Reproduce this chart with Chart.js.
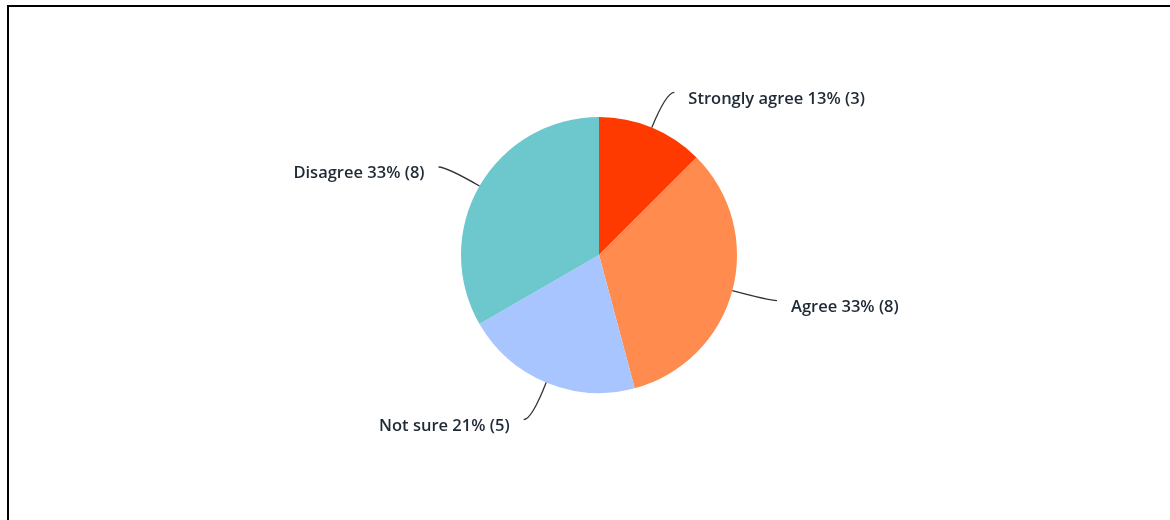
<!DOCTYPE html>
<html>
<head>
<meta charset="utf-8">
<script src="https://cdn.jsdelivr.net/npm/chart.js@4.4.1/dist/chart.umd.min.js"></script>
<style>
    html, body { margin: 0; padding: 0; background: #fff; }
    #wrap { position: relative; width: 1170px; height: 520px; overflow: hidden; }
    #topLine { position: absolute; left: 7px; top: 5px; width: 1163px; height: 2px; background: #000; }
    #leftLine { position: absolute; left: 7px; top: 5px; width: 2px; height: 515px; background: #000; }
    #box { position: absolute; left: 0; top: 0; width: 1170px; height: 520px; }
</style>
</head>
<body>
<div id="wrap">
    <div id="box"><canvas id="pieChart"></canvas></div>
    <div id="topLine"></div>
    <div id="leftLine"></div>
</div>
<script>
// Survey answers, counts and shares as shown in the chart
const answers = ['Strongly agree', 'Agree', 'Not sure', 'Disagree'];
const counts = [3, 8, 5, 8];
const percents = [13, 33, 21, 33];
const sliceColors = ['#ff3a00', '#ff8b4f', '#a9c5ff', '#6cc8cc'];

// Draws the curved leader lines and the labels next to each slice
const leaderLabels = {
    id: 'leaderLabels',
    afterDatasetsDraw(chart) {
        const ctx = chart.ctx;
        const meta = chart.getDatasetMeta(0);
        ctx.save();
        ctx.font = '600 16.5px "Open Sans"';
        ctx.textBaseline = 'middle';
        meta.data.forEach((arc, i) => {
            const p = arc.getProps(['x', 'y', 'startAngle', 'endAngle', 'outerRadius'], true);
            const mid = (p.startAngle + p.endAngle) / 2;
            const cos = Math.cos(mid), sin = Math.sin(mid);
            const right = cos >= 0;
            const x0 = p.x + cos * p.outerRadius;
            const y0 = p.y + sin * p.outerRadius;
            const x1 = p.x + cos * (p.outerRadius + 38);
            const y1 = p.y + sin * (p.outerRadius + 38) + (sin > 0.5 ? 2 : 0);
            const x2 = x1 + (right ? 8 : -8);

            ctx.strokeStyle = '#333';
            ctx.lineWidth = 1.3;
            ctx.beginPath();
            ctx.moveTo(x0, y0);
            ctx.quadraticCurveTo(x1, y1, x2, y1);
            ctx.stroke();

            ctx.fillStyle = '#1f2a36';
            ctx.textAlign = right ? 'left' : 'right';
            const text = answers[i] + ' ' + percents[i] + '% (' + counts[i] + ')';
            ctx.fillText(text, x2 + (right ? 14 : -14), y1 + 6.5);
        });
        ctx.restore();
    }
};

const ctx = document.getElementById('pieChart');
new Chart(ctx, {
    type: 'pie',
    data: {
        labels: answers,
        datasets: [{
            data: counts,
            backgroundColor: sliceColors,
            borderWidth: 0
        }]
    },
    options: {
        responsive: true,
        maintainAspectRatio: false,
        animation: false,
        layout: {
            padding: { left: 461, right: 433, top: 117, bottom: 127 }
        },
        plugins: {
            legend: { display: false },
            tooltip: { enabled: false }
        }
    },
    plugins: [leaderLabels]
});
</script>
</body>
</html>
